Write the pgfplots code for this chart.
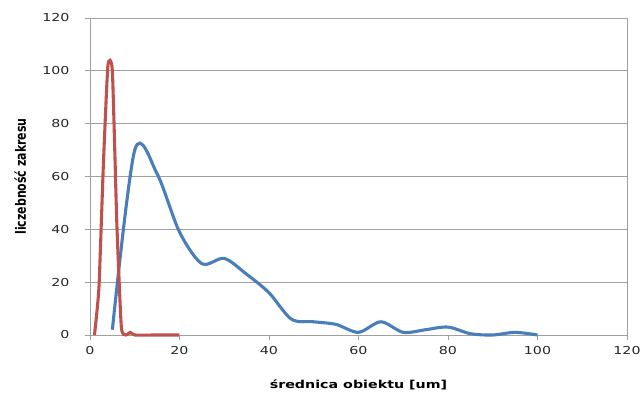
\documentclass[border=0pt]{standalone}
\usepackage{pgfplots}
\pgfplotsset{compat=1.18}
\usepackage{fontspec}
\setmainfont{DejaVu Sans}
\definecolor{exblue}{RGB}{74,126,187}
\definecolor{exred}{RGB}{192,80,77}
\definecolor{grd}{RGB}{160,160,160}
\begin{document}
\begin{tikzpicture}
\path[use as bounding box] (-90bp,-66bp) rectangle (551bp,335bp);
\begin{axis}[
  at={(0,0)}, anchor=south west,
  scale only axis, width=537bp, height=317bp,
  xmin=0, xmax=120, ymin=0, ymax=120,
  xtick={0,20,...,120}, ytick={0,20,...,120},
  ymajorgrids, grid style={grd, line width=0.8pt},
  axis line style={grd, line width=0.8pt},
  tick style={grd, line width=0.8pt},
  tick align=outside, major tick length=5bp,
  xtick pos=bottom, ytick pos=left,
  tick label style={font=\fontsize{11}{13}\selectfont, text=black!85},
  xticklabel={\scalebox{1.3}[1]{\pgfmathprintnumber[assume math mode=true]{\tick}}},
  yticklabel={\scalebox{1.3}[1]{\pgfmathprintnumber[assume math mode=true]{\tick}}},
  xticklabel style={yshift=-3bp},
  yticklabel style={xshift=-12bp},
  xlabel={\scalebox{1.3}[1]{\bfseries średnica obiektu [um]}},
  ylabel={\scalebox{1}[1.3]{\bfseries liczebność zakresu}},
  label style={font=\fontsize{11}{13}\selectfont},
  xlabel style={at={(axis description cs:0.5,-0.156)}, anchor=center},
  ylabel style={at={(axis description cs:-0.13,0.5)}, anchor=center},
  clip=false,
]
\addplot[exblue, line width=3.1pt, smooth, tension=0.5] coordinates {
(5,2) (10,70) (15,61) (20,39) (25,27) (30,29) (35,23) (40,16) (45,6) (50,5)
(55,4) (60,1) (65,5) (70,1) (75,2) (80,3) (85,0.5) (90,0) (95,1) (100,0)
};
\addplot[exred, line width=3.1pt, smooth, tension=0.3] coordinates {
(1,0) (2,18) (3,65) (4,102) (5,100) (6,42) (7,3) (8,0) (9,1) (10,0) (15,0) (20,0)
};
\end{axis}
\end{tikzpicture}
\end{document}
